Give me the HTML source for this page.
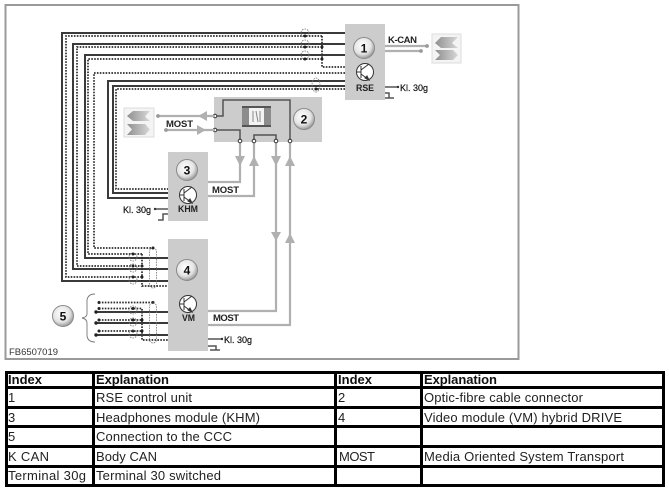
<!DOCTYPE html>
<html><head><meta charset="utf-8"><style>
html,body{margin:0;padding:0;background:#fff;width:669px;height:491px;overflow:hidden}
svg{display:block}
text{font-family:"Liberation Sans",sans-serif}
.s{fill:none;stroke:#3a3a3a;stroke-width:2}
.d{fill:none;stroke:#2c2c2c;stroke-width:1.7;stroke-dasharray:1.6 1.3}
.g{fill:none;stroke:#b0b0b0;stroke-width:2.2}
.k{fill:none;stroke:#555;stroke-width:1.5}
.c{fill:none;stroke:#777;stroke-width:.8;stroke-dasharray:1.6 1}
.p{fill:#fff;stroke:#333;stroke-width:1}
.a{fill:#b0b0b0}
.l{font-size:9.5px;font-weight:bold;fill:#222}
.m{font-size:9.5px;fill:#111;stroke:#111;stroke-width:.2}
.n{font-size:12px;font-weight:bold;fill:#111;text-anchor:middle}
.t{font-size:13px;fill:#222}
.h{font-size:13px;font-weight:bold;fill:#111}
</style></head><body>
<svg width="669" height="491" viewBox="0 0 669 491" xmlns="http://www.w3.org/2000/svg">
<defs>
<radialGradient id="b" cx=".42" cy=".38" r=".68"><stop offset="0" stop-color="#fff"/><stop offset=".6" stop-color="#e4e4e4"/><stop offset=".85" stop-color="#aaa"/><stop offset="1" stop-color="#777"/></radialGradient>
<linearGradient id="ar" x1="0" x2="1"><stop offset="0" stop-color="#8f8f8f"/><stop offset="1" stop-color="#d8d8d8"/></linearGradient>
</defs>
<rect x="5.5" y="5" width="513" height="354" fill="#fff" stroke="#9a9a9a" stroke-width="2"/>

<!-- bundle wires -->
<path class="s" d="M345 33H62V281H168"/>
<path class="d" d="M322 36H66V277H142"/>
<path class="s" d="M345 44H73V269H168"/>
<path class="d" d="M322 47H77V266H142"/>
<path class="s" d="M345 55H85V258H168"/>
<path class="d" d="M322 59H88V254H142"/>
<path class="d" d="M345 73H94V248H153"/>
<path class="s" d="M345 81H108V198H168"/>
<path class="s" d="M345 86H113V193H168"/>
<path class="d" d="M345 89H116V189H168"/>
<path class="d" d="M322 36V67H345"/>
<path class="d" d="M142 254V286H168"/>
<g class="c"><rect x="149.500" y="248" width="7" height="40" rx="3.500"/><ellipse cx="305" cy="33" rx="4" ry="4"/><ellipse cx="305" cy="44" rx="4" ry="4"/><ellipse cx="305" cy="55" rx="4" ry="4"/><ellipse cx="316" cy="85" rx="4" ry="7"/><ellipse cx="133" cy="257" rx="4" ry="4"/><ellipse cx="133" cy="268" rx="4" ry="4"/><ellipse cx="133" cy="280" rx="4" ry="4"/></g>
<g fill="#222"><circle cx="305" cy="36" r="1.500"/><circle cx="305" cy="47" r="1.500"/><circle cx="305" cy="59" r="1.500"/><circle cx="322" cy="47" r="1.500"/><circle cx="322" cy="59" r="1.500"/><circle cx="316" cy="89" r="1.500"/><circle cx="142" cy="266" r="1.500"/><circle cx="142" cy="277" r="1.500"/><circle cx="153" cy="248" r="1.500"/><circle cx="133" cy="254" r="1.500"/><circle cx="133" cy="266" r="1.500"/><circle cx="133" cy="277" r="1.500"/></g>

<!-- connection 5 -->
<path class="d" d="M99 302.500H153"/>
<path class="d" d="M99 308.500H142V340H168"/>
<path class="d" d="M99 320H142"/>
<path class="d" d="M99 331H142"/>
<path class="s" d="M96 312H168M96 323H168M96 335H168"/>
<g fill="#222"><circle cx="99" cy="302.500" r="1.500"/><circle cx="99" cy="308.500" r="1.500"/><circle cx="99" cy="320" r="1.500"/><circle cx="99" cy="331" r="1.500"/><circle cx="96" cy="312" r="1.700"/><circle cx="96" cy="323" r="1.700"/><circle cx="96" cy="335" r="1.700"/><circle cx="153" cy="302.500" r="1.500"/><circle cx="142" cy="320" r="1.500"/><circle cx="142" cy="331" r="1.500"/><circle cx="133" cy="308.500" r="1.500"/><circle cx="133" cy="320" r="1.500"/><circle cx="133" cy="331" r="1.500"/></g>
<g class="c"><rect x="149.500" y="303" width="7" height="40" rx="3.500"/><ellipse cx="133" cy="310" rx="4" ry="4"/><ellipse cx="133" cy="322" rx="4" ry="4"/><ellipse cx="133" cy="334" rx="4" ry="4"/></g>
<path d="M95 294Q88 294 87 300V314Q87 317 82 318Q87 319 87 323V336Q88 342 95 342" fill="none" stroke="#777" stroke-width=".9"/>

<!-- boxes -->
<rect x="345" y="24" width="40" height="76" fill="#cccccc"/>
<rect x="214" y="97" width="108" height="45" fill="#cccccc"/>
<rect x="168" y="152" width="40" height="69" fill="#cccccc"/>
<rect x="168" y="239" width="40" height="112" fill="#cccccc"/>

<!-- MOST gray wires -->
<path class="g" d="M240 141V182H208M254 141V196H208M276 141V311H208M290 141V325H208"/>
<g class="a"><path d="M235 156H245L240 166Z"/><path d="M254 156L259 166H249Z"/><path d="M271 156H281L276 166Z"/><path d="M290 156L295 166H285Z"/><path d="M271 232H281L276 241Z"/><path d="M290 233L295 243H285Z"/></g>

<!-- box 2 internals -->
<path class="k" d="M215 116H223V100H290V141M215 130H240V141M254 141V135H276V141"/>
<rect x="242" y="106" width="29" height="21" fill="#8c8c8c"/>
<rect x="242" y="106" width="29" height="2" fill="#555"/><rect x="242" y="125" width="29" height="2" fill="#555"/>
<rect x="249" y="108" width="15" height="17" fill="#f2f2f2"/>
<path d="M253 111V122M256 111L258 122M260 111V122" stroke="#888" stroke-width="1" fill="none"/>
<g class="p"><circle cx="215" cy="116" r="1.800"/><circle cx="215" cy="130" r="1.800"/><circle cx="240" cy="141" r="1.800"/><circle cx="254" cy="141" r="1.800"/><circle cx="276" cy="141" r="1.800"/><circle cx="290" cy="141" r="1.800"/></g>

<!-- MOST ext -->
<rect x="124" y="108" width="30" height="29" fill="#f4f4f4" stroke="#ddd"/>
<path d="M127 116L133 111H150L145 116.500L150 121H133Z" fill="url(#ar)"/>
<path d="M127 124H145L150 129.500L145 135H127L132 129.500Z" fill="url(#ar)"/>
<path class="g" d="M158 116H215M166 130H215"/>
<circle cx="158" cy="116" r="1.900" fill="#999"/><circle cx="166" cy="130" r="1.900" fill="#999"/>
<path class="a" d="M198 116L207 111V121Z"/><path class="a" d="M206 130L197 125V135Z"/>
<text x="166" y="127" class="l" textLength="27">MOST</text>

<!-- K-CAN ext -->
<rect x="432" y="34" width="29" height="29" fill="#f4f4f4" stroke="#ddd"/>
<path d="M435 43L441 37H458L452 43L458 48H441Z" fill="url(#ar)"/>
<path d="M435 50H453L458 55L453 60H435L440 55Z" fill="url(#ar)"/>
<path class="g" d="M385 46H427M385 51H421"/>
<circle cx="427" cy="46" r="1.900" fill="#999"/><circle cx="421" cy="51" r="1.900" fill="#999"/>
<text x="388" y="43" class="l" textLength="29">K-CAN</text>

<!-- numbered buttons -->
<g fill="url(#b)" stroke="#8a8a8a" stroke-width="1">
<circle cx="364" cy="48" r="10.500"/><circle cx="304" cy="119" r="10.500"/><circle cx="187" cy="170" r="10.500"/><circle cx="187" cy="270" r="10.500"/><circle cx="63" cy="316" r="10.500"/>
</g>
<text x="364" y="52.500" class="n">1</text><text x="304" y="123.500" class="n">2</text><text x="187" y="174.500" class="n">3</text><text x="187" y="274.500" class="n">4</text><text x="63" y="320.500" class="n">5</text>

<!-- transistors -->
<g fill="#fff" stroke="#333" stroke-width="1">
<circle cx="365" cy="72" r="8.500"/><path d="M361 66V78M361 72H357M361 70L369 64M361 74L369 80" fill="none"/><path d="M369 80L365 78L367 76Z" fill="#333"/>
<circle cx="188" cy="195" r="8.500"/><path d="M184 189V201M184 195H180M184 193L192 187M184 197L192 203" fill="none"/><path d="M192 203L188 201L190 199Z" fill="#333"/>
<circle cx="188" cy="304" r="8.500"/><path d="M184 298V310M184 304H180M184 302L192 296M184 306L192 312" fill="none"/><path d="M192 312L188 310L190 308Z" fill="#333"/>
</g>
<text x="356" y="91" class="l" textLength="18" lengthAdjust="spacingAndGlyphs">RSE</text>
<text x="178" y="212" class="l" textLength="20" lengthAdjust="spacingAndGlyphs">KHM</text>
<text x="182" y="321" class="l" textLength="13" lengthAdjust="spacingAndGlyphs">VM</text>
<text x="212" y="193" class="l" textLength="27">MOST</text>
<text x="213" y="321" class="l" textLength="26">MOST</text>

<!-- terminals -->
<path class="k" d="M385 87H398M385 93H389V98M385 98H394"/><circle cx="398" cy="87" r="1.200" fill="#333"/>
<text x="400" y="91" class="m" textLength="28" lengthAdjust="spacingAndGlyphs">Kl. 30g</text>
<path class="k" d="M155 209H168M168 214H163V220H158"/><circle cx="155" cy="209" r="1.200" fill="#333"/>
<text x="123" y="213" class="m" textLength="28" lengthAdjust="spacingAndGlyphs">Kl. 30g</text>
<path class="k" d="M208 339H222M208 346H216V350M210 350H220"/><circle cx="222" cy="339" r="1.200" fill="#333"/>
<text x="224" y="343" class="m" textLength="28" lengthAdjust="spacingAndGlyphs">Kl. 30g</text>

<text x="9" y="355" font-size="9" fill="#333" textLength="49" lengthAdjust="spacingAndGlyphs">FB6507019</text>

<!-- table -->
<rect x="6.500" y="372.500" width="657" height="113" fill="none" stroke="#000" stroke-width="3"/>
<g fill="#000">
<rect x="6" y="386" width="657" height="3"/><rect x="6" y="406" width="657" height="3"/><rect x="6" y="425" width="657" height="3"/><rect x="6" y="445" width="657" height="3"/><rect x="6" y="465" width="657" height="3"/>
<rect x="92" y="372" width="3" height="113"/><rect x="334" y="372" width="3" height="113"/><rect x="420" y="372" width="3" height="113"/>
</g>
<text x="8" y="384" class="h" textLength="34">Index</text>
<text x="96" y="384" class="h" textLength="73">Explanation</text>
<text x="338" y="384" class="h" textLength="34">Index</text>
<text x="424" y="384" class="h" textLength="73">Explanation</text>
<text x="8" y="402" class="t">1</text>
<text x="96" y="402" class="t" textLength="96">RSE control unit</text>
<text x="338" y="402" class="t">2</text>
<text x="424" y="402" class="t" textLength="159">Optic-fibre cable connector</text>
<text x="8" y="422" class="t">3</text>
<text x="96" y="422" class="t" textLength="164">Headphones module (KHM)</text>
<text x="338" y="422" class="t">4</text>
<text x="424" y="422" class="t" textLength="198">Video module (VM) hybrid DRIVE</text>
<text x="8" y="441" class="t">5</text>
<text x="96" y="441" class="t" textLength="136">Connection to the CCC</text>
<text x="8" y="461" class="t" textLength="41">K CAN</text>
<text x="96" y="461" class="t" textLength="61">Body CAN</text>
<text x="339" y="461" class="t" textLength="36">MOST</text>
<text x="424" y="461" class="t" textLength="200">Media Oriented System Transport</text>
<text x="8" y="480" class="t" textLength="78">Terminal 30g</text>
<text x="96" y="480" class="t" textLength="125">Terminal 30 switched</text>
</svg>
</body></html>
